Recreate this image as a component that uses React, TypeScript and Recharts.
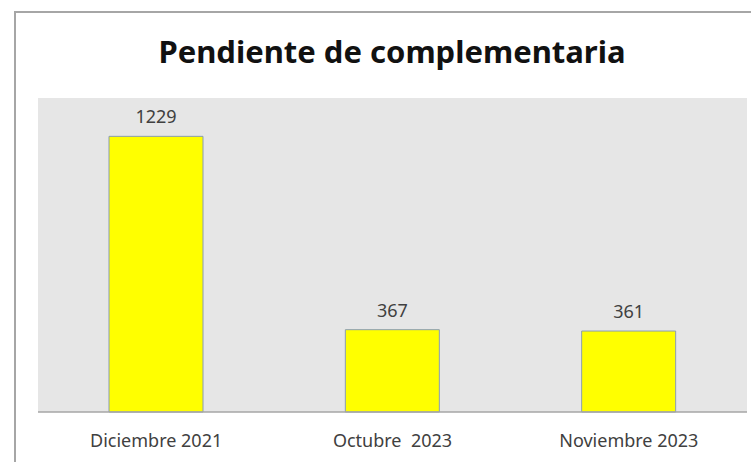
import { BarChart, Bar, XAxis, YAxis, CartesianGrid, LabelList } from 'recharts';

const categories = ['Diciembre 2021', 'Octubre\u00a0\u00a02023', 'Noviembre 2023'];
const pendientes = [1229, 367, 361];
const yDomain = [0, 1400];

const chartData = categories.map((name, i) => ({ name, value: pendientes[i] }));

const FONT = "'Noto Sans', 'Open Sans', sans-serif";

export default function App() {
  return (
    <div style={{ position: 'absolute', left: 0, top: 0, width: 751, height: 462, background: '#fff', overflow: 'hidden' }}>
      <div
        style={{
          position: 'absolute',
          left: 14,
          top: 11,
          width: 760,
          height: 470,
          borderLeft: '2px solid #a6a6a6',
          borderTop: '2px solid #a6a6a6',
        }}
      />
      <div
        style={{
          position: 'absolute',
          left: 92,
          width: 600,
          top: 31,
          textAlign: 'center',
          fontFamily: FONT,
          fontWeight: 700,
          fontSize: 31,
          color: '#111',
          lineHeight: '40px',
        }}
      >
        Pendiente de complementaria
      </div>
      <BarChart
        width={751}
        height={462}
        data={chartData}
        margin={{ top: 98, right: 4, left: 38, bottom: 20 }}
        style={{ position: 'absolute', left: 0, top: 0 }}
      >
        <CartesianGrid fill="#e6e6e6" horizontal={false} vertical={false} />
        <XAxis
          dataKey="name"
          height={30}
          tickSize={0}
          tickMargin={22}
          axisLine={{ stroke: '#a6a6a6', strokeWidth: 1.5 }}
          tick={{ fill: '#404040', fontSize: 18, fontFamily: FONT }}
          interval={0}
        />
        <YAxis hide domain={yDomain} />
        <Bar dataKey="value" fill="#ffff00" stroke="#8a9db0" strokeWidth={1} barSize={94} isAnimationActive={false}>
          <LabelList dataKey="value" position="top" offset={13} fill="#404040" fontSize={18} fontFamily={FONT} />
        </Bar>
      </BarChart>
    </div>
  );
}
